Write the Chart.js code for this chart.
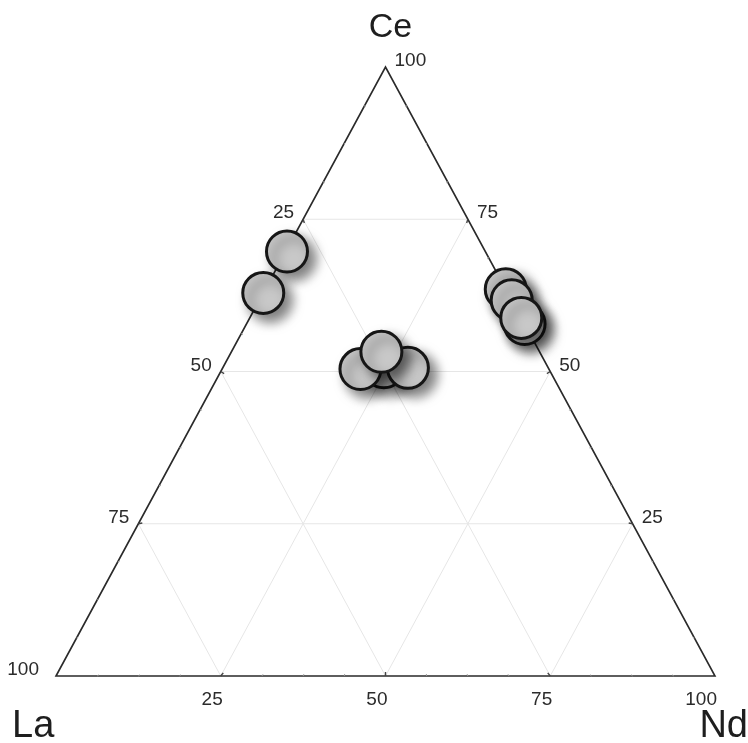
<!DOCTYPE html>
<html>
<head>
<meta charset="utf-8">
<script src="https://cdn.jsdelivr.net/npm/chart.js@4/dist/chart.umd.min.js"></script>
<style>
  html, body { margin: 0; padding: 0; background: #ffffff; }
  #wrap { width: 748px; height: 743px; }
</style>
</head>
<body>
<div id="wrap"><canvas id="c" width="748" height="743"></canvas></div>
<script>
// ---- Data (ternary compositions, %) ----
const vertexLabels = ['La', 'Ce', 'Nd'];
const La = [30.1, 37.1, 0.0, 0.0, 0.0, 0.0, 24.9, 28.6, 21.3, 24.0];
const Ce = [69.7, 62.9, 63.5, 61.7, 57.8, 58.8, 50.7, 50.4, 50.6, 53.25];
const Nd = [0.2, 0.0, 36.5, 38.3, 42.2, 41.2, 24.4, 21.0, 28.1, 22.75];
const gridLevels = [25, 50, 75];
const tickLabelsLa = ['25', '50', '75', '100'];
const tickLabelsCe = ['25', '50', '75', '100'];
const tickLabelsNd = ['25', '50', '75', '100'];

// ternary -> cartesian (in % units)
function toXY(la, ce, nd) { return { x: nd + ce / 2, y: ce }; }

const points = La.map((v, i) => toXY(La[i], Ce[i], Nd[i]));

const ternaryPlugin = {
  id: 'ternary',
  beforeDatasetsDraw(chart) {
    const { ctx, scales: { x, y } } = chart;
    const P = (la, ce, nd) => { const q = toXY(la, ce, nd); return [x.getPixelForValue(q.x), y.getPixelForValue(q.y)]; };
    ctx.save();
    // grid
    ctx.strokeStyle = '#e6e6e6';
    ctx.lineWidth = 1;
    gridLevels.forEach(g => {
      const segs = [
        [P(100 - g, g, 0), P(0, g, 100 - g)],
        [P(g, 100 - g, 0), P(g, 0, 100 - g)],
        [P(0, 100 - g, g), P(100 - g, 0, g)]
      ];
      segs.forEach(([a, b]) => { ctx.beginPath(); ctx.moveTo(a[0], a[1]); ctx.lineTo(b[0], b[1]); ctx.stroke(); });
    });
    // frame
    const A = P(100, 0, 0), B = P(0, 100, 0), C = P(0, 0, 100);
    ctx.strokeStyle = '#2a2a2a';
    ctx.lineWidth = 1.6;
    ctx.beginPath(); ctx.moveTo(A[0], A[1]); ctx.lineTo(B[0], B[1]); ctx.lineTo(C[0], C[1]); ctx.closePath(); ctx.stroke();
    // tick marks (every 6.25 %, major every 25 %)
    const cx = (A[0] + B[0] + C[0]) / 3, cy = (A[1] + B[1] + C[1]) / 3;
    for (let k = 1; k < 16; k++) {
      const v = k * 6.25;
      const major = (k % 4 === 0);
      const len = major ? 4 : 2;
      ctx.strokeStyle = major ? '#444' : '#999';
      ctx.lineWidth = major ? 1.4 : 1;
      const pts = [P(100 - v, 0, v), P(v, 100 - v, 0), P(0, v, 100 - v)];
      pts.forEach(p => {
        const dx = cx - p[0], dy = cy - p[1], d = Math.hypot(dx, dy);
        ctx.beginPath(); ctx.moveTo(p[0], p[1]); ctx.lineTo(p[0] + dx / d * len, p[1] + dy / d * len); ctx.stroke();
      });
    }
    ctx.restore();
  },
  beforeDatasetDraw(chart) {
    const ctx = chart.ctx;
    ctx.save();
    ctx.shadowColor = 'rgba(0,0,0,0.5)';
    ctx.shadowBlur = 12;
    ctx.shadowOffsetX = 7;
    ctx.shadowOffsetY = 7;
  },
  afterDatasetDraw(chart) { chart.ctx.restore(); },
  afterDraw(chart) {
    const { ctx, scales: { x, y } } = chart;
    const P = (la, ce, nd) => { const q = toXY(la, ce, nd); return [x.getPixelForValue(q.x), y.getPixelForValue(q.y)]; };
    ctx.save();
    ctx.fillStyle = '#2b2b2b';
    ctx.font = '19px "Liberation Sans", Arial, sans-serif';
    ctx.textBaseline = 'alphabetic';
    // La values on left edge
    ctx.textAlign = 'right';
    tickLabelsLa.forEach((t, i) => {
      const v = (i + 1) * 25;
      const p = P(v, 100 - v, 0);
      const gap = (v === 100) ? 17 : 9;
      ctx.fillText(t, p[0] - gap, p[1] - 1);
    });
    // Ce values on right edge
    ctx.textAlign = 'left';
    tickLabelsCe.forEach((t, i) => {
      const v = (i + 1) * 25;
      const p = P(0, v, 100 - v);
      ctx.fillText(t, p[0] + 9, p[1] - 1);
    });
    // Nd values on bottom edge
    ctx.textAlign = 'right';
    ctx.textBaseline = 'top';
    tickLabelsNd.forEach((t, i) => {
      const v = (i + 1) * 25;
      const p = P(100 - v, 0, v);
      ctx.fillText(t, p[0] + 2, p[1] + 14);
    });
    // vertex labels
    ctx.fillStyle = '#1e1e1e';
    ctx.textBaseline = 'alphabetic';
    ctx.font = '34px "Liberation Sans", Arial, sans-serif';
    ctx.textAlign = 'center';
    const top = P(0, 100, 0);
    ctx.fillText(vertexLabels[1], top[0] + 5, 37);
    ctx.font = '38px "Liberation Sans", Arial, sans-serif';
    ctx.textAlign = 'left';
    ctx.fillText(vertexLabels[0], 12, 737);
    ctx.textAlign = 'right';
    ctx.fillText(vertexLabels[2], 748, 737);
    ctx.restore();
  }
};

new Chart(document.getElementById('c'), {
  type: 'scatter',
  data: {
    datasets: [{
      label: 'Samples',
      data: points,
      pointRadius: 20.5,
      pointHoverRadius: 20.5,
      pointBackgroundColor: '#c8c8c8',
      pointBorderColor: '#161616',
      pointBorderWidth: 3,
      clip: false
    }]
  },
  options: {
    responsive: false,
    animation: false,
    events: [],
    layout: { padding: { left: 56, right: 33, top: 67, bottom: 67 } },
    scales: {
      x: { type: 'linear', min: 0, max: 100, display: false },
      y: { type: 'linear', min: 0, max: 100, display: false }
    },
    plugins: { legend: { display: false }, tooltip: { enabled: false }, title: { display: false } }
  },
  plugins: [ternaryPlugin]
});
</script>
</body>
</html>
